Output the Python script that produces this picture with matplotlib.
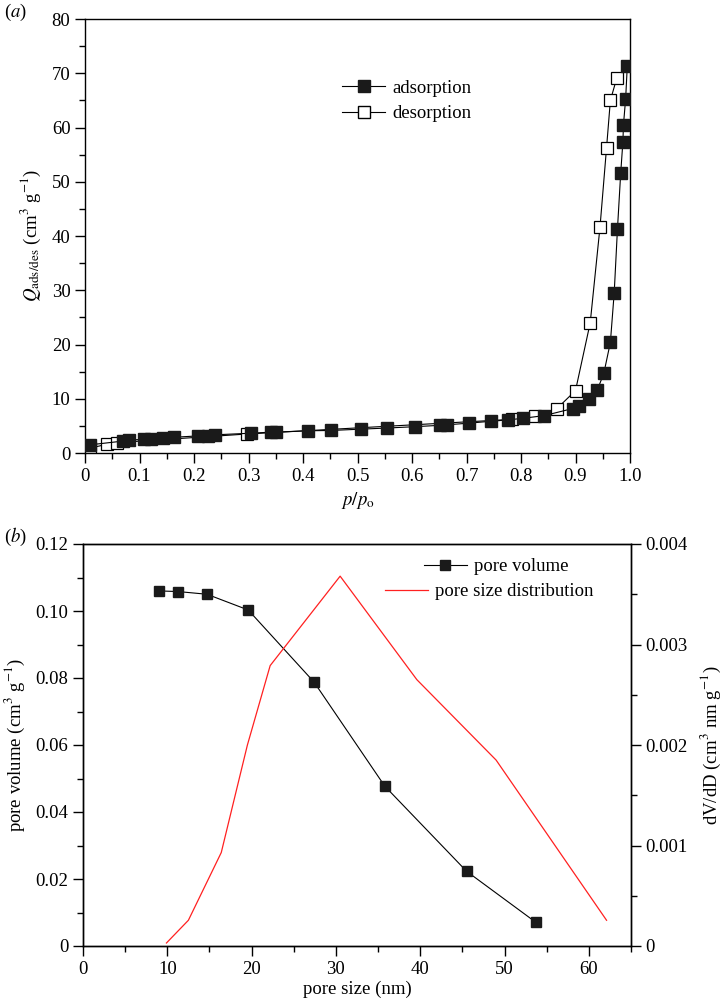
import matplotlib
matplotlib.use("Agg")
import matplotlib.pyplot as plt
from matplotlib.ticker import MultipleLocator, FuncFormatter
from matplotlib.lines import Line2D

plt.rcParams['font.family'] = ['Liberation Serif', 'DejaVu Serif']
plt.rcParams['mathtext.fontset'] = 'stix'
plt.rcParams['font.size'] = 13.5

# ---- panel (a) data ----
ads_p = [0.0085, 0.070, 0.080, 0.109, 0.121, 0.143, 0.163, 0.207, 0.225, 0.238,
         0.305, 0.342, 0.351, 0.409, 0.451, 0.507, 0.554, 0.605, 0.651, 0.665,
         0.704, 0.745, 0.776, 0.804, 0.843, 0.895, 0.906, 0.925, 0.940, 0.952,
         0.964, 0.971, 0.977, 0.983, 0.987, 0.988, 0.992, 0.995]
ads_q = [1.5, 2.2, 2.4, 2.5, 2.6, 2.75, 2.9, 3.15, 3.15, 3.35,
         3.65, 3.85, 3.85, 4.1, 4.15, 4.4, 4.6, 4.85, 5.1, 5.2,
         5.5, 5.85, 6.1, 6.4, 6.9, 8.2, 8.7, 10.0, 11.6, 14.7,
         20.4, 29.5, 41.3, 51.7, 57.4, 60.5, 65.3, 71.3]
des_p = [0.009, 0.040, 0.058, 0.297, 0.783, 0.826, 0.866, 0.900, 0.927, 0.945,
         0.957, 0.964, 0.976]
des_q = [0.9, 1.6, 1.9, 3.5, 6.2, 6.9, 8.2, 11.5, 24.0, 41.7,
         56.3, 65.0, 69.2]

# ---- panel (b) data ----
pv_size = [9.0, 11.3, 14.7, 19.6, 27.4, 35.8, 45.5, 53.7]
pv_vol = [0.106, 0.1058, 0.105, 0.1003, 0.0788, 0.0477, 0.0223, 0.0071]
psd_size = [9.9, 12.5, 16.4, 19.5, 22.2, 30.5, 39.6, 49.0, 62.1]
psd_val = [0.00003, 0.000256, 0.00093, 0.0020, 0.00279, 0.00368, 0.00265, 0.00185, 0.000256]

fig = plt.figure(figsize=(7.25, 10), dpi=100)

# ---------------- panel (a) ----------------
ax1 = fig.add_axes([85/725, 1-453/1000, (630-85)/725, (453-19)/1000])
ax1.plot(des_p, des_q, color='black', lw=0.8, marker='s', ms=8.5,
         mfc='white', mec='black', mew=0.9, zorder=2)
ax1.plot(ads_p, ads_q, color='black', lw=0.8, marker='s', ms=8.5,
         mfc='#1a1a1a', mec='#1a1a1a', zorder=3)
ax1.set_xlim(0, 1.0)
ax1.set_ylim(0, 80)
ax1.xaxis.set_major_locator(MultipleLocator(0.1))
ax1.xaxis.set_minor_locator(MultipleLocator(0.05))
ax1.yaxis.set_major_locator(MultipleLocator(10))
ax1.yaxis.set_minor_locator(MultipleLocator(5))
ax1.xaxis.set_major_formatter(FuncFormatter(lambda v, p: '0' if abs(v) < 1e-9 else f'{v:.1f}'))
ax1.tick_params(which='major', direction='out', length=7, width=1.0)
ax1.tick_params(which='minor', direction='out', length=4, width=1.0)
ax1.tick_params(top=False, right=False)
for s in ax1.spines.values():
    s.set_linewidth(1.0)
ax1.set_xlabel(r'$p/p_{\rm o}$', labelpad=4)
ax1.set_ylabel(r'$Q_{\rm ads/des}$ (cm$^3$ g$^{-1}$)', labelpad=6)
h_ads = Line2D([], [], color='black', lw=0.8, marker='s', ms=8.5, mfc='#1a1a1a', mec='#1a1a1a')
h_des = Line2D([], [], color='black', lw=0.8, marker='s', ms=8.5, mfc='white', mec='black')
ax1.legend([h_ads, h_des], ['adsorption', 'desorption'], frameon=False,
           loc='center left', bbox_to_anchor=(0.4716, 0.811), borderaxespad=0,
           borderpad=0, handlelength=2.3, handletextpad=0.37, labelspacing=0.45)
fig.text(0.005, 0.988, r'($\it{a}$)', fontsize=13.5, va='center', ha='left')

# ---------------- panel (b) ----------------
ax2 = fig.add_axes([83/725, 1-946/1000, (631-83)/725, (946-544)/1000])
ax3 = ax2.twinx()
ax2.plot(pv_size, pv_vol, color='black', lw=0.8, marker='s', ms=7.5,
         mfc='#1a1a1a', mec='#1a1a1a')
ax3.plot(psd_size, psd_val, color='#ff2020', lw=0.9)
ax2.set_xlim(0, 65)
ax2.set_ylim(0, 0.12)
ax3.set_ylim(0, 0.004)
ax2.xaxis.set_major_locator(MultipleLocator(10))
ax2.xaxis.set_minor_locator(MultipleLocator(5))
ax2.yaxis.set_major_locator(MultipleLocator(0.02))
ax2.yaxis.set_minor_locator(MultipleLocator(0.01))
ax3.yaxis.set_major_locator(MultipleLocator(0.001))
ax3.yaxis.set_minor_locator(MultipleLocator(0.0005))
ax2.yaxis.set_major_formatter(FuncFormatter(lambda v, p: '0' if abs(v) < 1e-12 else f'{v:.2f}'))
ax3.yaxis.set_major_formatter(FuncFormatter(lambda v, p: '0' if abs(v) < 1e-12 else f'{v:.3f}'))
for a in (ax2, ax3):
    a.tick_params(which='major', direction='out', length=7, width=1.0)
    a.tick_params(which='minor', direction='out', length=4, width=1.0)
    for s in a.spines.values():
        s.set_linewidth(1.0)
ax2.tick_params(top=False)
ax3.tick_params(top=False)
ax2.set_xlabel('pore size (nm)', labelpad=2)
ax2.set_ylabel(r'pore volume (cm$^3$ g$^{-1}$)', labelpad=6)
ax3.set_ylabel(r'dV/dD (cm$^3$ nm g$^{-1}$)', labelpad=8)
h_pv = Line2D([], [], color='black', lw=0.8, marker='s', ms=7.5, mfc='#1a1a1a', mec='#1a1a1a')
h_psd = Line2D([], [], color='#ff2020', lw=0.9)
leg1 = ax3.legend([h_pv], ['pore volume'], frameon=False, loc='center left',
                  bbox_to_anchor=(0.622, 0.943), borderaxespad=0, borderpad=0,
                  handlelength=2.3, handletextpad=0.37)
ax3.add_artist(leg1)
ax3.legend([h_psd], ['pore size distribution'], frameon=False, loc='center left',
           bbox_to_anchor=(0.551, 0.881), borderaxespad=0, borderpad=0,
           handlelength=2.3, handletextpad=0.37)
fig.text(0.005, 0.463, r'($\it{b}$)', fontsize=13.5, va='center', ha='left')

fig.savefig('out.png', dpi=100)
